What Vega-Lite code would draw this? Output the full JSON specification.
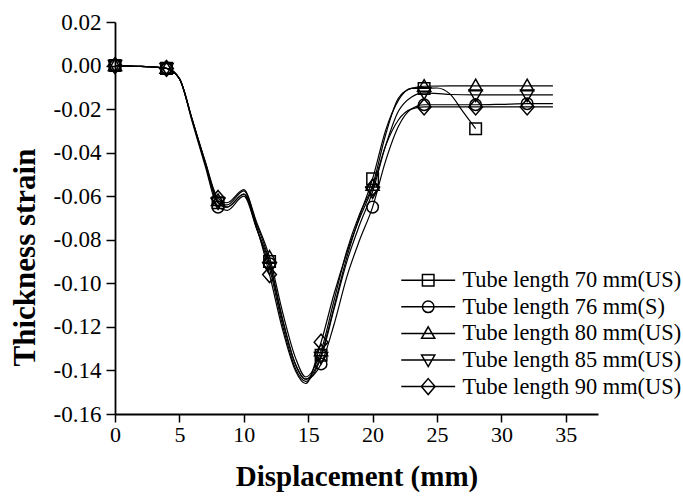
{
  "$schema": "https://vega.github.io/schema/vega-lite/v6.json",
  "width": 483,
  "height": 392,
  "autosize": {"type": "none"},
  "padding": {"left": 115, "top": 22, "right": 85, "bottom": 82},
  "background": "white",
  "config": {
    "view": {"stroke": null},
    "font": "Liberation Serif",
    "axis": {
      "grid": false,
      "domainColor": "black",
      "domainWidth": 1.8,
      "tickColor": "black",
      "tickWidth": 1.5,
      "labelColor": "black",
      "titleColor": "black",
      "labelFont": "Liberation Serif",
      "titleFont": "Liberation Serif",
      "titleFontWeight": "bold"
    }
  },
  "data": {
    "values": [
      {"series": "Tube length 70 mm(US)", "x": 0, "y": 0},
      {"series": "Tube length 70 mm(US)", "x": 2, "y": -0.0004},
      {"series": "Tube length 70 mm(US)", "x": 4, "y": -0.0013},
      {"series": "Tube length 70 mm(US)", "x": 5, "y": -0.006},
      {"series": "Tube length 70 mm(US)", "x": 6, "y": -0.025},
      {"series": "Tube length 70 mm(US)", "x": 7, "y": -0.045},
      {"series": "Tube length 70 mm(US)", "x": 8, "y": -0.063},
      {"series": "Tube length 70 mm(US)", "x": 8.7, "y": -0.065},
      {"series": "Tube length 70 mm(US)", "x": 10, "y": -0.059},
      {"series": "Tube length 70 mm(US)", "x": 11, "y": -0.073},
      {"series": "Tube length 70 mm(US)", "x": 12, "y": -0.09},
      {"series": "Tube length 70 mm(US)", "x": 13, "y": -0.116},
      {"series": "Tube length 70 mm(US)", "x": 14, "y": -0.137},
      {"series": "Tube length 70 mm(US)", "x": 14.8, "y": -0.144},
      {"series": "Tube length 70 mm(US)", "x": 16, "y": -0.133},
      {"series": "Tube length 70 mm(US)", "x": 17, "y": -0.111},
      {"series": "Tube length 70 mm(US)", "x": 18, "y": -0.088},
      {"series": "Tube length 70 mm(US)", "x": 19, "y": -0.069},
      {"series": "Tube length 70 mm(US)", "x": 20, "y": -0.052},
      {"series": "Tube length 70 mm(US)", "x": 21, "y": -0.03},
      {"series": "Tube length 70 mm(US)", "x": 22, "y": -0.016},
      {"series": "Tube length 70 mm(US)", "x": 23, "y": -0.0105},
      {"series": "Tube length 70 mm(US)", "x": 24, "y": -0.0105},
      {"series": "Tube length 70 mm(US)", "x": 25, "y": -0.0103},
      {"series": "Tube length 70 mm(US)", "x": 26, "y": -0.013},
      {"series": "Tube length 70 mm(US)", "x": 27, "y": -0.021},
      {"series": "Tube length 70 mm(US)", "x": 28, "y": -0.029},

      {"series": "Tube length 76 mm(S)", "x": 0, "y": 0},
      {"series": "Tube length 76 mm(S)", "x": 2, "y": -0.0004},
      {"series": "Tube length 76 mm(S)", "x": 4, "y": -0.0013},
      {"series": "Tube length 76 mm(S)", "x": 5, "y": -0.006},
      {"series": "Tube length 76 mm(S)", "x": 6, "y": -0.026},
      {"series": "Tube length 76 mm(S)", "x": 7, "y": -0.046},
      {"series": "Tube length 76 mm(S)", "x": 8, "y": -0.065},
      {"series": "Tube length 76 mm(S)", "x": 8.7, "y": -0.0665},
      {"series": "Tube length 76 mm(S)", "x": 10, "y": -0.06},
      {"series": "Tube length 76 mm(S)", "x": 11, "y": -0.075},
      {"series": "Tube length 76 mm(S)", "x": 12, "y": -0.091},
      {"series": "Tube length 76 mm(S)", "x": 13, "y": -0.117},
      {"series": "Tube length 76 mm(S)", "x": 14, "y": -0.137},
      {"series": "Tube length 76 mm(S)", "x": 14.8, "y": -0.144},
      {"series": "Tube length 76 mm(S)", "x": 16, "y": -0.137},
      {"series": "Tube length 76 mm(S)", "x": 17, "y": -0.119},
      {"series": "Tube length 76 mm(S)", "x": 18, "y": -0.097},
      {"series": "Tube length 76 mm(S)", "x": 19, "y": -0.08},
      {"series": "Tube length 76 mm(S)", "x": 20, "y": -0.065},
      {"series": "Tube length 76 mm(S)", "x": 21, "y": -0.044},
      {"series": "Tube length 76 mm(S)", "x": 22, "y": -0.028},
      {"series": "Tube length 76 mm(S)", "x": 23, "y": -0.02},
      {"series": "Tube length 76 mm(S)", "x": 24, "y": -0.018},
      {"series": "Tube length 76 mm(S)", "x": 26, "y": -0.018},
      {"series": "Tube length 76 mm(S)", "x": 28, "y": -0.018},
      {"series": "Tube length 76 mm(S)", "x": 30, "y": -0.0178},
      {"series": "Tube length 76 mm(S)", "x": 32, "y": -0.0175},
      {"series": "Tube length 76 mm(S)", "x": 34, "y": -0.0175},

      {"series": "Tube length 80 mm(US)", "x": 0, "y": 0},
      {"series": "Tube length 80 mm(US)", "x": 2, "y": -0.0004},
      {"series": "Tube length 80 mm(US)", "x": 4, "y": -0.0013},
      {"series": "Tube length 80 mm(US)", "x": 5, "y": -0.006},
      {"series": "Tube length 80 mm(US)", "x": 6, "y": -0.025},
      {"series": "Tube length 80 mm(US)", "x": 7, "y": -0.044},
      {"series": "Tube length 80 mm(US)", "x": 8, "y": -0.062},
      {"series": "Tube length 80 mm(US)", "x": 8.7, "y": -0.064},
      {"series": "Tube length 80 mm(US)", "x": 10, "y": -0.0575},
      {"series": "Tube length 80 mm(US)", "x": 11, "y": -0.072},
      {"series": "Tube length 80 mm(US)", "x": 12, "y": -0.088},
      {"series": "Tube length 80 mm(US)", "x": 13, "y": -0.113},
      {"series": "Tube length 80 mm(US)", "x": 14, "y": -0.134},
      {"series": "Tube length 80 mm(US)", "x": 14.8, "y": -0.143},
      {"series": "Tube length 80 mm(US)", "x": 16, "y": -0.131},
      {"series": "Tube length 80 mm(US)", "x": 17, "y": -0.108},
      {"series": "Tube length 80 mm(US)", "x": 18, "y": -0.085},
      {"series": "Tube length 80 mm(US)", "x": 19, "y": -0.068},
      {"series": "Tube length 80 mm(US)", "x": 20, "y": -0.055},
      {"series": "Tube length 80 mm(US)", "x": 21, "y": -0.032},
      {"series": "Tube length 80 mm(US)", "x": 22, "y": -0.015},
      {"series": "Tube length 80 mm(US)", "x": 23, "y": -0.0105},
      {"series": "Tube length 80 mm(US)", "x": 24, "y": -0.0095},
      {"series": "Tube length 80 mm(US)", "x": 26, "y": -0.0093},
      {"series": "Tube length 80 mm(US)", "x": 28, "y": -0.0093},
      {"series": "Tube length 80 mm(US)", "x": 30, "y": -0.0093},
      {"series": "Tube length 80 mm(US)", "x": 32, "y": -0.0093},
      {"series": "Tube length 80 mm(US)", "x": 34, "y": -0.0093},

      {"series": "Tube length 85 mm(US)", "x": 0, "y": 0},
      {"series": "Tube length 85 mm(US)", "x": 2, "y": -0.0004},
      {"series": "Tube length 85 mm(US)", "x": 4, "y": -0.0013},
      {"series": "Tube length 85 mm(US)", "x": 5, "y": -0.006},
      {"series": "Tube length 85 mm(US)", "x": 6, "y": -0.025},
      {"series": "Tube length 85 mm(US)", "x": 7, "y": -0.045},
      {"series": "Tube length 85 mm(US)", "x": 8, "y": -0.063},
      {"series": "Tube length 85 mm(US)", "x": 8.7, "y": -0.065},
      {"series": "Tube length 85 mm(US)", "x": 10, "y": -0.059},
      {"series": "Tube length 85 mm(US)", "x": 11, "y": -0.075},
      {"series": "Tube length 85 mm(US)", "x": 12, "y": -0.093},
      {"series": "Tube length 85 mm(US)", "x": 13, "y": -0.119},
      {"series": "Tube length 85 mm(US)", "x": 14, "y": -0.139},
      {"series": "Tube length 85 mm(US)", "x": 14.8, "y": -0.145},
      {"series": "Tube length 85 mm(US)", "x": 16, "y": -0.134},
      {"series": "Tube length 85 mm(US)", "x": 17, "y": -0.112},
      {"series": "Tube length 85 mm(US)", "x": 18, "y": -0.09},
      {"series": "Tube length 85 mm(US)", "x": 19, "y": -0.073},
      {"series": "Tube length 85 mm(US)", "x": 20, "y": -0.058},
      {"series": "Tube length 85 mm(US)", "x": 21, "y": -0.037},
      {"series": "Tube length 85 mm(US)", "x": 22, "y": -0.021},
      {"series": "Tube length 85 mm(US)", "x": 23, "y": -0.0145},
      {"series": "Tube length 85 mm(US)", "x": 24, "y": -0.0125},
      {"series": "Tube length 85 mm(US)", "x": 26, "y": -0.0133},
      {"series": "Tube length 85 mm(US)", "x": 28, "y": -0.0135},
      {"series": "Tube length 85 mm(US)", "x": 30, "y": -0.0135},
      {"series": "Tube length 85 mm(US)", "x": 32, "y": -0.0135},
      {"series": "Tube length 85 mm(US)", "x": 34, "y": -0.0135},

      {"series": "Tube length 90 mm(US)", "x": 0, "y": 0},
      {"series": "Tube length 90 mm(US)", "x": 2, "y": -0.0004},
      {"series": "Tube length 90 mm(US)", "x": 4, "y": -0.0013},
      {"series": "Tube length 90 mm(US)", "x": 5, "y": -0.006},
      {"series": "Tube length 90 mm(US)", "x": 6, "y": -0.025},
      {"series": "Tube length 90 mm(US)", "x": 7, "y": -0.044},
      {"series": "Tube length 90 mm(US)", "x": 8, "y": -0.061},
      {"series": "Tube length 90 mm(US)", "x": 8.7, "y": -0.063},
      {"series": "Tube length 90 mm(US)", "x": 10, "y": -0.057},
      {"series": "Tube length 90 mm(US)", "x": 11, "y": -0.074},
      {"series": "Tube length 90 mm(US)", "x": 12, "y": -0.096},
      {"series": "Tube length 90 mm(US)", "x": 13, "y": -0.121},
      {"series": "Tube length 90 mm(US)", "x": 14, "y": -0.14},
      {"series": "Tube length 90 mm(US)", "x": 14.8, "y": -0.146},
      {"series": "Tube length 90 mm(US)", "x": 16, "y": -0.127},
      {"series": "Tube length 90 mm(US)", "x": 17, "y": -0.105},
      {"series": "Tube length 90 mm(US)", "x": 18, "y": -0.086},
      {"series": "Tube length 90 mm(US)", "x": 19, "y": -0.07},
      {"series": "Tube length 90 mm(US)", "x": 20, "y": -0.056},
      {"series": "Tube length 90 mm(US)", "x": 21, "y": -0.037},
      {"series": "Tube length 90 mm(US)", "x": 22, "y": -0.025},
      {"series": "Tube length 90 mm(US)", "x": 23, "y": -0.02},
      {"series": "Tube length 90 mm(US)", "x": 24, "y": -0.019},
      {"series": "Tube length 90 mm(US)", "x": 26, "y": -0.019},
      {"series": "Tube length 90 mm(US)", "x": 28, "y": -0.019},
      {"series": "Tube length 90 mm(US)", "x": 30, "y": -0.019},
      {"series": "Tube length 90 mm(US)", "x": 32, "y": -0.019},
      {"series": "Tube length 90 mm(US)", "x": 34, "y": -0.019}
    ]
  },
  "encoding": {
    "x": {
      "field": "x",
      "type": "quantitative",
      "scale": {"domain": [0, 37.5], "nice": false, "zero": false},
      "axis": {
        "title": "Displacement (mm)",
        "values": [0, 5, 10, 15, 20, 25, 30, 35],
        "labelFontSize": 22,
        "titleFontSize": 29,
        "tickSize": 8,
        "labelPadding": 2,
        "titlePadding": 17,
        "labelFlush": false
      }
    },
    "y": {
      "field": "y",
      "type": "quantitative",
      "scale": {"domain": [-0.16, 0.02], "nice": false, "zero": false},
      "axis": {
        "title": "Thickness strain",
        "values": [-0.16, -0.14, -0.12, -0.1, -0.08, -0.06, -0.04, -0.02, 0, 0.02],
        "labelExpr": "replace(format(datum.value, '.2f'), '\u2212', '-')",
        "labelFontSize": 23,
        "titleFontSize": 31,
        "titleY": 235,
        "tickSize": 9,
        "labelPadding": 5,
        "titlePadding": 12,
        "labelFlush": false
      }
    }
  },
  "layer": [
    {
      "mark": {"type": "line", "interpolate": "monotone", "color": "black", "strokeWidth": 1.2},
      "encoding": {"detail": {"field": "series", "type": "nominal"}}
    },
    {
      "transform": [{"filter": "datum.x % 4 === 0 && datum.x <= 32"}],
      "mark": {"type": "point", "filled": false, "color": "black", "strokeWidth": 1.5, "size": 121, "opacity": 1},
      "encoding": {
        "shape": {
          "field": "series",
          "type": "nominal",
          "scale": {
            "domain": ["Tube length 70 mm(US)", "Tube length 76 mm(S)", "Tube length 80 mm(US)", "Tube length 85 mm(US)", "Tube length 90 mm(US)"],
            "range": [
              "M-1.05,-1.05H1.05V1.05H-1.05Z",
              "M-1.05,0A1.05,1.05,0,1,1,1.05,0A1.05,1.05,0,1,1,-1.05,0Z",
              "M0,-1.2L1.2,0.9H-1.2Z",
              "M0,1.2L1.2,-0.9H-1.2Z",
              "M0,-1.45L1.25,0L0,1.45L-1.25,0Z"
            ]
          },
          "legend": null
        }
      }
    },
    {
      "transform": [{"filter": "false"}],
      "mark": {"type": "point", "filled": false, "color": "black", "strokeWidth": 1.5, "size": 121, "opacity": 1},
      "encoding": {
        "shape": {
          "field": "series",
          "type": "nominal",
          "scale": {
            "domain": ["Tube length 70 mm(US)", "Tube length 76 mm(S)", "Tube length 80 mm(US)", "Tube length 85 mm(US)", "Tube length 90 mm(US)"],
            "range": [
              "M-4.9,0H4.9M-1.05,-1.05H1.05V1.05H-1.05Z",
              "M-4.9,0H4.9M-1.05,0A1.05,1.05,0,1,1,1.05,0A1.05,1.05,0,1,1,-1.05,0Z",
              "M-4.9,0H4.9M0,-1.2L1.2,0.9H-1.2Z",
              "M-4.9,0H4.9M0,1.2L1.2,-0.9H-1.2Z",
              "M-4.9,0H4.9M0,-1.45L1.25,0L0,1.45L-1.25,0Z"
            ]
          },
          "legend": {
            "title": null,
            "orient": "none",
            "legendX": 302,
            "legendY": 247,
            "padding": 0,
            "labelFont": "Liberation Serif",
            "labelFontSize": 22.4,
            "labelColor": "black",
            "labelLimit": 0,
            "symbolSize": 121,
            "symbolStrokeWidth": 1.5,
            "symbolStrokeColor": "black",
            "labelOffset": 23,
            "rowPadding": 3.6
          }
        }
      }
    }
  ],
  "resolve": {"scale": {"shape": "independent"}, "legend": {"shape": "independent"}}
}
